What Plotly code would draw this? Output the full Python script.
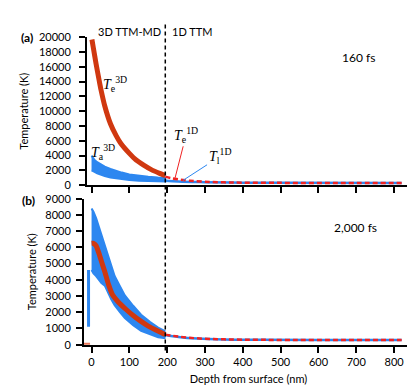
import plotly.graph_objects as go

W, H = 415, 392

# ---- panel (a) : 160 fs ----
a_te3d_x = [1, 5, 12, 20, 25, 35, 50, 65, 78, 100, 118, 140, 158, 180, 195]
a_te3d_t = [19700, 18500, 16400, 14200, 12900, 10700, 8300, 6700, 5600, 4300, 3400, 2650, 2100, 1600, 1300]

a_band_x = [0, 3, 8, 15, 25, 35, 50, 65, 80, 100, 125, 150, 175, 195]
a_band_hi = [4000, 3800, 3400, 3100, 2800, 2500, 2200, 1900, 1700, 1450, 1250, 1150, 1050, 1000]
a_band_lo = [2000, 2000, 1800, 1600, 1400, 1250, 1050, 900, 800, 700, 600, 550, 500, 500]

a_te1d_x = [195, 210, 230, 260, 300, 350, 400, 500, 600, 700, 820]
a_te1d_t = [1150, 950, 780, 600, 460, 380, 340, 310, 300, 300, 300]
a_tl1d_x = [195, 230, 300, 400, 500, 820]
a_tl1d_t = [600, 480, 400, 340, 310, 300]

# ---- panel (b) : 2,000 fs ----
b_te3d_x = [0, 5, 12, 20, 28, 35, 45, 55, 70, 90, 110, 130, 150, 170, 190, 195]
b_te3d_t = [6250, 6250, 6100, 5600, 5000, 4500, 3700, 3100, 2650, 2200, 1800, 1450, 1150, 900, 680, 620]
b_vac_x = [-20, -4]
b_vac_t = [0, 0]

b_band_x = [0, 5, 12, 20, 26, 35, 43, 52, 61, 75, 88, 110, 131, 155, 176, 193]
b_band_hi = [8400, 8200, 7800, 7200, 6800, 6200, 5600, 4900, 4230, 3600, 3040, 2400, 1850, 1400, 1050, 850]
b_band_lo = [4600, 4400, 4230, 4000, 3800, 3640, 3200, 2800, 2440, 2000, 1650, 1200, 850, 620, 460, 400]
b_spike_x = [-8, -8]
b_spike_t = [1100, 4600]

b_te1d_x = [195, 230, 280, 350, 450, 600, 820]
b_te1d_t = [620, 500, 390, 330, 300, 290, 290]
b_tl1d_x = [195, 230, 280, 350, 450, 600, 820]
b_tl1d_t = [600, 480, 380, 320, 300, 290, 290]

RED = "rgb(208,56,16)"
RED2 = "rgb(240,35,35)"
BLUE = "rgb(45,135,240)"

fig = go.Figure()

def band(xs, hi, lo, xa, ya):
    return go.Scatter(x=xs + xs[::-1], y=hi + lo[::-1], fill="toself",
                      fillcolor=BLUE, line=dict(color=BLUE, width=2),
                      mode="lines", xaxis=xa, yaxis=ya, hoverinfo="skip")

# panel a traces
fig.add_trace(band(a_band_x, a_band_hi, a_band_lo, "x", "y"))
fig.add_trace(go.Scatter(x=a_te3d_x, y=a_te3d_t, mode="lines",
                         line=dict(color=RED, width=5, shape="spline", smoothing=0.6),
                         xaxis="x", yaxis="y"))
fig.add_trace(go.Scatter(x=a_tl1d_x, y=a_tl1d_t, mode="lines", line=dict(color=BLUE, width=2.5, shape="spline"),
                         xaxis="x", yaxis="y"))
fig.add_trace(go.Scatter(x=a_te1d_x, y=a_te1d_t, mode="lines",
                         line=dict(color=RED2, width=2.5, dash="5px,3px", shape="spline"), xaxis="x", yaxis="y"))

# panel b traces
fig.add_trace(band(b_band_x, b_band_hi, b_band_lo, "x2", "y2"))
fig.add_trace(go.Scatter(x=b_spike_x, y=b_spike_t, mode="lines", line=dict(color=BLUE, width=3),
                         xaxis="x2", yaxis="y2"))
fig.add_trace(go.Scatter(x=b_te3d_x, y=b_te3d_t, mode="lines",
                         line=dict(color=RED, width=5, shape="spline", smoothing=0.6),
                         xaxis="x2", yaxis="y2"))
fig.add_trace(go.Scatter(x=b_vac_x, y=b_vac_t, mode="lines", line=dict(color="rgb(235,120,90)", width=4),
                         xaxis="x2", yaxis="y2"))
fig.add_trace(go.Scatter(x=b_tl1d_x, y=b_tl1d_t, mode="lines", line=dict(color=BLUE, width=2.5, shape="spline"),
                         xaxis="x2", yaxis="y2"))
fig.add_trace(go.Scatter(x=b_te1d_x, y=b_te1d_t, mode="lines",
                         line=dict(color=RED2, width=2.5, dash="5px,3px", shape="spline"), xaxis="x2", yaxis="y2"))

def py(p):  # pixel row -> paper y
    return 1 - p / H

axis_common = dict(showline=True, linecolor="black", linewidth=2, ticks="outside", ticklen=6,
                   tickwidth=1.5, tickcolor="black", showgrid=False, zeroline=False,
                   tickfont=dict(size=11, color="black"))

fig.update_layout(
    width=W, height=H, margin=dict(l=0, r=0, t=0, b=0),
    paper_bgcolor="white", plot_bgcolor="white", showlegend=False,
    font=dict(family="Lato", size=11, color="black"),
    xaxis=dict(domain=[79 / W, 405 / W], range=[-12, 850], anchor="y", tickvals=[0, 100, 200, 300, 400, 500, 600, 700, 800],
               showticklabels=False, **axis_common),
    yaxis=dict(domain=[py(176), py(23)], range=[0, 20000], anchor="x", dtick=2000, tickformat="d",
               ticklabelstandoff=6,
               title=dict(text="Temperature (K)", standoff=8, font=dict(size=11)), **axis_common),
    xaxis2=dict(domain=[76 / W, 405 / W], range=[-20, 850], anchor="y2", tickvals=[0, 100, 200, 300, 400, 500, 600, 700, 800],
                title=dict(text="Depth from surface (nm)", standoff=8, font=dict(size=11)), **axis_common),
    yaxis2=dict(domain=[py(341), py(190)], range=[0, 9000], anchor="x2", dtick=1000, tickformat="d",
                ticklabelstandoff=3,
                title=dict(text="Temperature (K)", standoff=6, font=dict(size=11)), **axis_common),
)

# region divider
fig.add_shape(type="line", xref="x", yref="paper", x0=195, x1=195, y0=py(347), y1=py(8),
              line=dict(color="black", width=1.5, dash="4px,3px"))

serif = dict(family="Liberation Serif", size=14, color="black")
ann = [
    dict(x=19 / W, y=py(23), text="<b>(a)</b>", font=dict(size=12)),
    dict(x=20 / W, y=py(192), text="<b>(b)</b>", font=dict(size=12)),
    dict(x=121 / W, y=py(17), text="3D TTM-MD", font=dict(size=11)),
    dict(x=184 / W, y=py(17), text="1D TTM", font=dict(size=11)),
    dict(x=350 / W, y=py(44), text="160 fs", font=dict(size=12)),
    dict(x=347 / W, y=py(220), text="2,000 fs", font=dict(size=12)),
    dict(x=107 / W, y=py(71), text="<i>T</i><sub>e</sub><sup>3D</sup>", font=serif),
    dict(x=95 / W, y=py(142), text="<i>T</i><sub>a</sub><sup>3D</sup>", font=serif),
]
for a in ann:
    fig.add_annotation(xref="paper", yref="paper", showarrow=False, xanchor="center", yanchor="middle", **a)

fig.add_annotation(x=221, y=1000, xref="x", yref="y", ax=11, ay=-43, text="<i>T</i><sub>e</sub><sup>1D</sup>",
                   font=serif, showarrow=True, arrowhead=0, arrowwidth=1, arrowcolor=RED2)
fig.add_annotation(x=242, y=650, xref="x", yref="y", ax=37, ay=-24, text="<i>T</i><sub>l</sub><sup>1D</sup>",
                   font=serif, showarrow=True, arrowhead=0, arrowwidth=1, arrowcolor=BLUE)

fig.write_html("out.html")
